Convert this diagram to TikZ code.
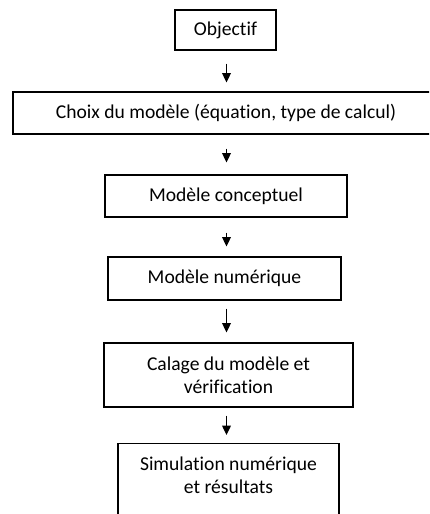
\documentclass[tikz,border=0pt]{standalone}
\usepackage{fontspec}
\setmainfont{Carlito}[Ligatures=NoCommon]
\usetikzlibrary{arrows.meta}

\begin{document}
\begin{tikzpicture}[x=0.75pt,y=-0.75pt,
    box/.style={draw, line width=0.8pt, align=center, inner sep=0pt,
        font=\fontsize{14.7}{17.25}\selectfont},
    arr/.style={line width=1pt, -{Triangle[width=6.5pt,length=7pt]}}]
        \useasboundingbox (0,0) rectangle (429,514);
        \clip (0,0) rectangle (429,514);
        \coordinate (mid) at (226.5,0);
        % the steps, top to bottom
        \node[box, minimum width=75.75pt, minimum height=30pt] (obj) at (225.5,30) {Objectif};
        \node[box, minimum width=319.5pt, minimum height=31.5pt] (choix) at (226,113) {Choix du modèle (équation, type de calcul)};
        \node[box, minimum width=181.5pt, minimum height=31.5pt] (concept) at (226,196) {Modèle conceptuel};
        \node[box, minimum width=174.75pt, minimum height=32.25pt] (num) at (224.5,278.5) {Modèle numérique};
        \node[box, minimum width=186.75pt, minimum height=48pt] (calage) at (228.5,375) {Calage du modèle et\\vérification};
        \node[box, anchor=north, minimum width=165.75pt, inner ysep=10pt, text depth=60pt] (sim) at (228.5,443) {Simulation numérique\\et résultats};
        % short arrows between the steps
        \draw[arr, shorten <=9.75pt, shorten >=6.75pt] (obj.south -| mid) -- (choix.north -| mid);
        \draw[arr, shorten <=10.5pt, shorten >=9pt] (choix.south -| mid) -- (concept.north -| mid);
        \draw[arr, shorten <=11.25pt, shorten >=7.5pt] (concept.south -| mid) -- (num.north -| mid);
        \draw[arr, shorten <=6pt, shorten >=7.5pt] (num.south -| mid) -- (calage.north -| mid);
        \draw[arr, shorten <=6pt, shorten >=6pt] (calage.south -| mid) -- (sim.north -| mid);
\end{tikzpicture}
\end{document}
